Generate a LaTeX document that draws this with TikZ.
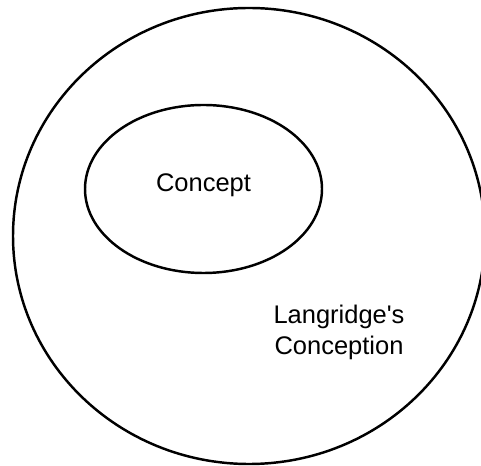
\documentclass[tikz,border=0pt]{standalone}
\usepackage{fontspec}
\setmainfont{Liberation Sans}[Ligatures=TeXOff]
\begin{document}
\begin{tikzpicture}[line width=1.4pt,
  label/.style={font=\fontsize{14.5}{17.6}\selectfont, align=center, inner sep=0pt}]
  \useasboundingbox (0,0) rectangle (9.62,9.30);
  \clip (0,0) rectangle (9.62,9.30);
  % outer set and inner set
  \draw (4.98,4.58) ellipse (4.72 and 4.56);
  \draw (4.07,5.52) ellipse (2.37 and 1.68);

  \node[label, anchor=base] (concept) at (4.07,5.46) {Concept};
  \node[label] (conception) at (6.78,2.66) {Langridge's\\Conception};
\end{tikzpicture}
\end{document}
